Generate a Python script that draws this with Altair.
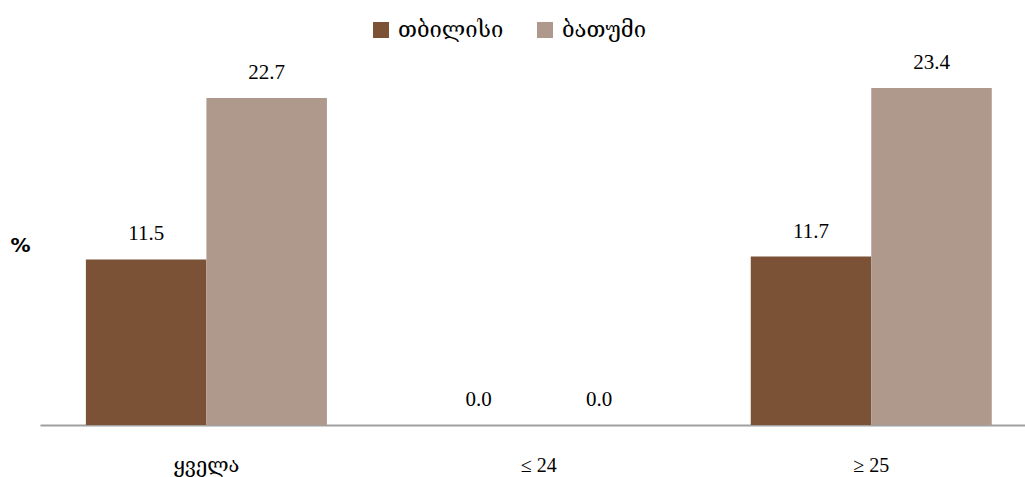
import altair as alt
import pandas as pd

categories = ["ყველა", "≤ 24", "≥ 25"]
series = ["თბილისი", "ბათუმი"]
tbilisi = [11.5, 0.0, 11.7]
batumi = [22.7, 0.0, 23.4]
colors = ["#7B5236", "#AE998C"]

rows = []
for i, c in enumerate(categories):
    rows.append({"cat": c, "city": series[0], "value": tbilisi[i]})
    rows.append({"cat": c, "city": series[1], "value": batumi[i]})
df = pd.DataFrame(rows)

serif = "Liberation Serif"
geo = "DejaVu Serif"

x = alt.X("cat:N", sort=categories, title=None,
          scale=alt.Scale(paddingInner=0.275, paddingOuter=0.119, align=0.58),
          axis=alt.Axis(labelAngle=0, ticks=False, domainColor="#A0A0A0", domainWidth=2,
                        labelFont={"condition": {"test": "datum.label == 'ყველა'", "value": geo},
                                   "value": serif},
                        labelFontSize=20, labelColor="#000000",
                        labelPadding=30))
xo = alt.XOffset("city:N", sort=series, scale=alt.Scale(paddingInner=0, paddingOuter=0))
y = alt.Y("value:Q", scale=alt.Scale(domain=[0, 25], nice=False),
          axis=alt.Axis(title="%", titleAngle=0, titleX=-20, titleY=190, titleFont="DejaVu Sans",
                        titleFontSize=20, titleFontWeight="bold", titleColor="#000000",
                        labels=False, ticks=False, domain=False, grid=False))

bars = alt.Chart(df).mark_bar().encode(
    x=x, xOffset=xo, y=y,
    color=alt.Color("city:N", sort=series, scale=alt.Scale(domain=series, range=colors),
                    legend=alt.Legend(title=None, orient="none", legendX=330, legendY=-46,
                                      direction="horizontal", symbolType="square",
                                      symbolSize=256, symbolStrokeWidth=0, symbolOpacity=1,
                                      labelFont=geo, labelFontSize=22, labelColor="#000000",
                                      columnPadding=30, labelOffset=6)),
)

text = alt.Chart(df).mark_text(dy=-19, baseline="alphabetic", font=serif, fontSize=21,
                               color="#000000").encode(
    x=alt.X("cat:N", sort=categories), xOffset=alt.XOffset("city:N", sort=series), y="value:Q",
    text=alt.Text("value:Q", format=".1f"),
)

chart = (bars + text).properties(
    width=985, height=360,
    background="white",
    autosize=alt.AutoSizeParams(type="none"),
    padding={"left": 40, "top": 65, "right": 0, "bottom": 52},
).configure_view(strokeWidth=0, stroke=None)

chart.save("out.html", embed_options={"renderer": "svg", "actions": False})
